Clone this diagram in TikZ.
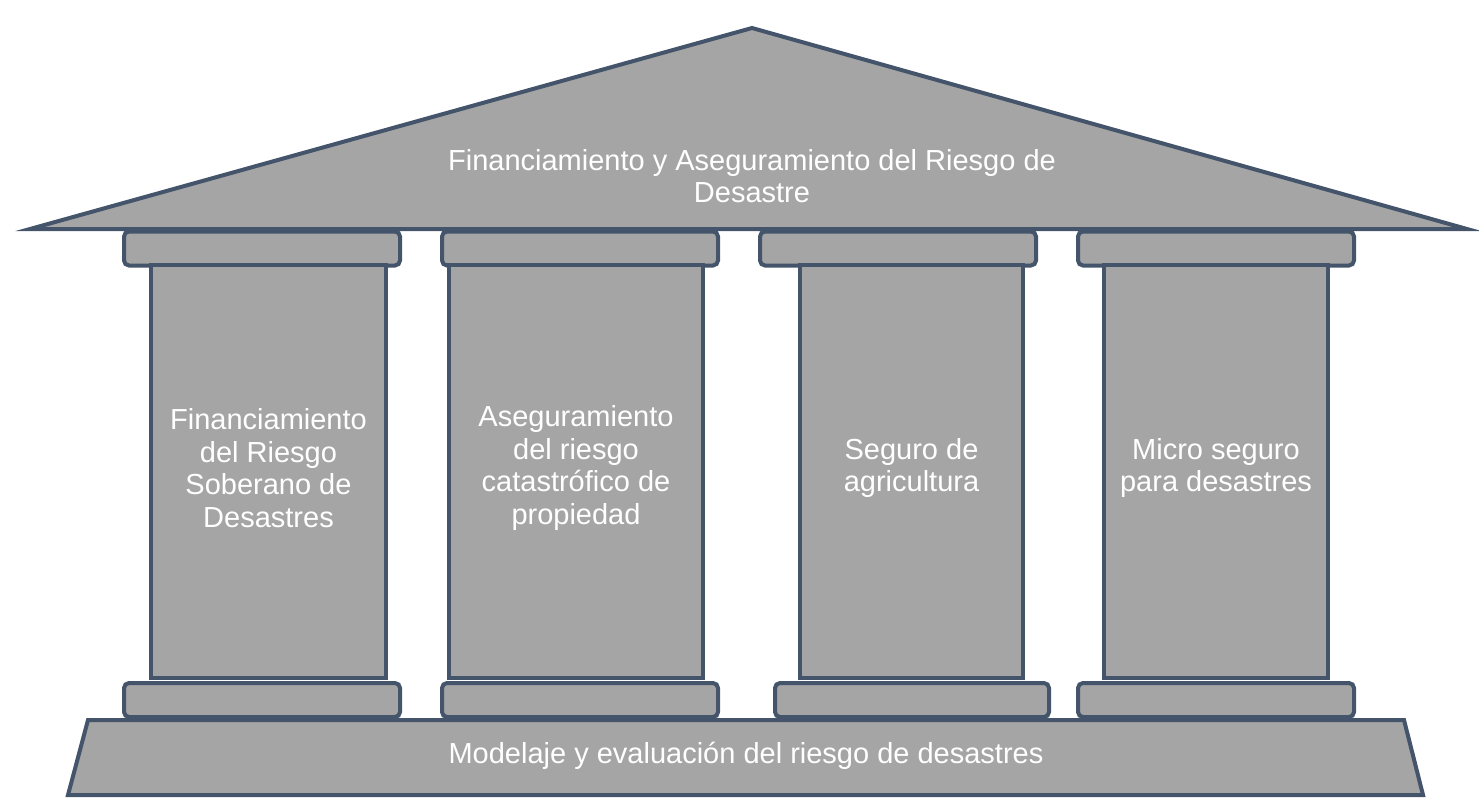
\documentclass[tikz,border=0pt]{standalone}
\usepackage{fontspec}
\setmainfont{Liberation Sans}
\definecolor{stonefill}{HTML}{A5A5A5}
\definecolor{stoneline}{HTML}{44546A}

\begin{document}
\begin{tikzpicture}[x=1pt,y=-1pt,
                      stone/.style={draw=stoneline,fill=stonefill,line width=4pt},
                      slab/.style={stone,rounded corners=5pt,minimum height=34pt,inner sep=0pt},
                      shaft/.style={stone,minimum height=413pt,inner sep=0pt},
                      label/.style={text=white,align=center,font=\fontsize{29}{32.5}\selectfont}]
  \useasboundingbox (0,0) rectangle (1479,806);

  % roof
  \draw[stone] (30,229) -- (752,28) -- (1467,229) -- cycle;
  \node[label] (roof) at (752,176) {Financiamiento y Aseguramiento del Riesgo de\\Desastre};

  % floor
  \draw[stone] (88,720) -- (1404,720) -- (1423,795) -- (68,795) -- cycle;
  \node[label] (floor) at (746,756) {Modelaje y evaluaci\'on del riesgo de desastres};

  % loop over the pillars: capital x, base x/width, shaft x/width
  \foreach \n/\cx/\bx/\bw/\sx/\sw/\txt in {%
      1/262/262/276/268.5/235/{Financiamiento\\del Riesgo\\Soberano de\\Desastres},
      2/580/580/276/576/254/{Aseguramiento\\del riesgo\\catastr\'ofico de\\propiedad},
      3/898/912/274/911.5/223/{Seguro de\\agricultura},
      4/1216/1216/276/1216/224/{Micro seguro\\para desastres}} {
    \node[slab,minimum width=276pt] (cap\n) at (\cx,248.5) {};
    \node[slab,minimum width=\bw pt] (base\n) at (\bx,700) {};
    \node[shaft,minimum width=\sw pt] (shaft\n) at (\sx,471.5) {};
    \node[label] (text\n) at (\sx,468) {\txt};
  }

\end{tikzpicture}
\end{document}
